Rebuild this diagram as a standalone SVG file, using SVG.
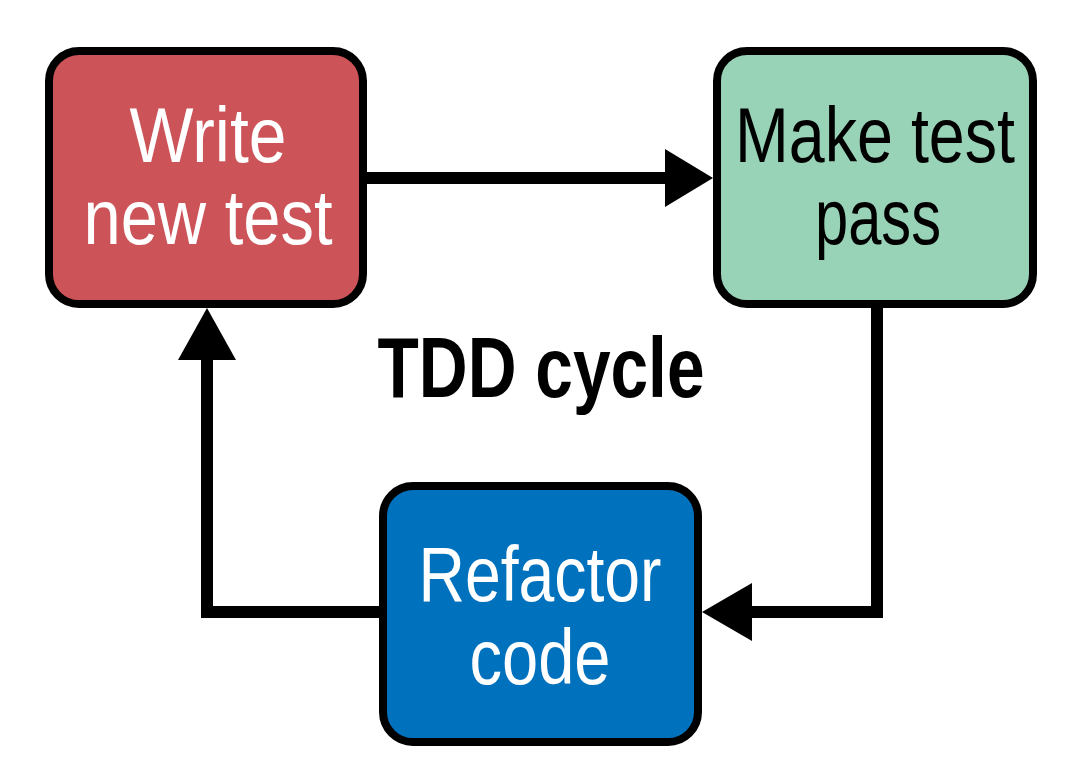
<svg xmlns="http://www.w3.org/2000/svg" width="1078" height="780" viewBox="0 0 1078 780">
  <style>
    .box { stroke: #000; stroke-width: 8; }
    .lbl { font-family: "Liberation Sans", Arial, sans-serif; font-size: 78px; text-anchor: middle; }
    .title { font-family: "Liberation Sans", Arial, sans-serif; font-size: 86px; font-weight: bold; text-anchor: middle; fill: #000; }
    .conn { fill: none; stroke: #000; stroke-width: 12; stroke-linejoin: miter; stroke-linecap: butt; }
  </style>
  <rect width="1078" height="780" fill="#fff"/>
  <g id="connectors">
    <line class="conn" x1="367" y1="178" x2="670" y2="178"/>
    <polygon points="713,178 665,149 665,207" fill="#000"/>
    <path class="conn" d="M877 308 V612 H748"/>
    <polygon points="702,612 752,583 752,641" fill="#000"/>
    <path class="conn" d="M379 612 H207 V355"/>
    <polygon points="207,308 178,360 236,360" fill="#000"/>
  </g>
  <g id="write">
    <rect class="box" x="49" y="51" width="314" height="253" rx="30" fill="#cc5358"/>
    <text class="lbl" fill="#fff" x="208" y="162" textLength="157" lengthAdjust="spacingAndGlyphs">Write</text>
    <text class="lbl" fill="#fff" x="208" y="244" textLength="249" lengthAdjust="spacingAndGlyphs">new test</text>
  </g>
  <g id="make">
    <rect class="box" x="717" y="51" width="316" height="253" rx="30" fill="#98d3b7"/>
    <text class="lbl" fill="#000" x="875" y="162" textLength="280" lengthAdjust="spacingAndGlyphs">Make test</text>
    <text class="lbl" fill="#000" x="878" y="244" textLength="126" lengthAdjust="spacingAndGlyphs">pass</text>
  </g>
  <g id="refactor">
    <rect class="box" x="383" y="486" width="315" height="256" rx="30" fill="#0071bd"/>
    <text class="lbl" fill="#fff" x="540" y="601" textLength="243" lengthAdjust="spacingAndGlyphs">Refactor</text>
    <text class="lbl" fill="#fff" x="540" y="684" textLength="141" lengthAdjust="spacingAndGlyphs">code</text>
  </g>
  <g id="title">
    <text class="title" x="541" y="397" textLength="327" lengthAdjust="spacingAndGlyphs">TDD cycle</text>
  </g>
</svg>
